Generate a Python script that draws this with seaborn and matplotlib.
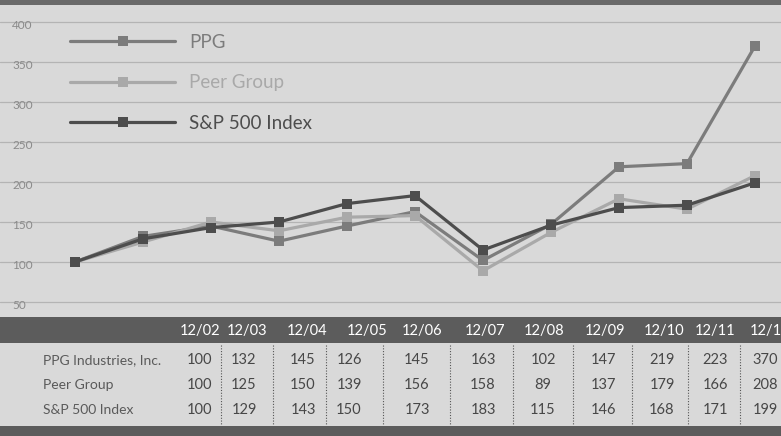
import pandas as pd
import matplotlib.pyplot as plt
import seaborn as sns
from matplotlib.patches import Rectangle

# five-year cumulative return, indexed to 100
periods = ["12/02", "12/03", "12/04", "12/05", "12/06", "12/07",
           "12/08", "12/09", "12/10", "12/11", "12/12"]
ppg = [100, 132, 145, 126, 145, 163, 102, 147, 219, 223, 370]
peer = [100, 125, 150, 139, 156, 158, 89, 137, 179, 166, 208]
sp500 = [100, 129, 143, 150, 173, 183, 115, 146, 168, 171, 199]

series_names = ["PPG", "Peer Group", "S&P 500 Index"]
row_labels = ["PPG Industries, Inc.", "Peer Group", "S&P 500 Index"]
y_ticks = [50, 100, 150, 200, 250, 300, 350, 400]

BG = "#d9d9d9"
DARK_BAR = "#5c5c5c"
palette = {"PPG": "#7c7c7c", "Peer Group": "#a9a9a9", "S&P 500 Index": "#4d4d4d"}

sns.set_theme(style="white")
plt.rcParams["font.family"] = ["Lato", "DejaVu Sans"]

df = pd.DataFrame({
    "period": list(range(len(periods))) * 3,
    "value": ppg + peer + sp500,
    "series": [s for s in series_names for _ in periods],
})

W, H = 781, 436
fig = plt.figure(figsize=(W / 100, H / 100), dpi=100, facecolor=BG)

# chart area: pixel rows 5..317
ax = fig.add_axes([0, (H - 317) / H, 1, 312 / H])
ax.set_facecolor(BG)

sns.lineplot(data=df, x="period", y="value", hue="series", palette=palette,
             hue_order=series_names, marker="s", markersize=7, linewidth=2.3,
             markeredgewidth=0, ax=ax)

# map pixel x: index 0 at 75px, 68px per step
px0, step = 75, 68
ax.set_xlim(-px0 / step, (W - px0) / step)
ax.set_ylim(100 - 55 / 0.8, 400 + 17 / 0.8)
for y in y_ticks:
    ax.axhline(y, color="#b4b4b4", lw=0.9, zorder=0)
    ax.text(ax.get_xlim()[0] + 12 / step, y - 4, str(y),
            fontsize=8.5, color="#8a8a8a", va="center", ha="left")
ax.set_xticks([])
ax.set_yticks([])
ax.set_xlabel("")
ax.set_ylabel("")
for s in ax.spines.values():
    s.set_visible(False)

leg = ax.legend(loc="upper left", bbox_to_anchor=(70 / W, 1 - 29 / 312),
                frameon=False, handlelength=5.6, handletextpad=0.75,
                labelspacing=1.25, fontsize=13.5, borderaxespad=0, borderpad=0)
for txt, name in zip(leg.get_texts(), series_names):
    txt.set_color(palette[name])

# table area: pixel rows 317..436, drawn in pixel units
tab = fig.add_axes([0, 0, 1, (H - 317) / H])
tab.set_xlim(0, W)
tab.set_ylim(H, 317)
tab.axis("off")
tab.add_patch(Rectangle((0, 317), W, 26, color=DARK_BAR, lw=0))
tab.add_patch(Rectangle((0, 426), W, 10, color=DARK_BAR, lw=0))
fig.add_artist(Rectangle((0, 1 - 5 / H), 1, 5 / H, transform=fig.transFigure,
                         color="#6a6a6a", lw=0))

head_x = [200, 247, 307, 367, 422, 485, 544, 605, 664, 715, 770]
val_x = [199, 244, 303, 349, 417, 483, 543, 603, 662, 715, 765]
sep_x = [221, 273, 326, 383, 450, 513, 573, 632, 688, 740]
row_y = [360, 385, 410]

for x, p in zip(head_x, periods):
    tab.text(x, 331, p, color="white", fontsize=10.5, ha="center", va="center")
for x in sep_x:
    tab.plot([x, x], [345, 424], color="#555555", lw=0.8, ls=(0, (1, 1.5)))
for y, label, vals in zip(row_y, row_labels, [ppg, peer, sp500]):
    tab.text(43, y, label, color="#5a5a5a", fontsize=10, ha="left", va="center")
    for x, v in zip(val_x, vals):
        tab.text(x, y, str(v), color="#474747", fontsize=10.5, ha="center", va="center")

fig.savefig("out.png", dpi=100, facecolor=BG)
